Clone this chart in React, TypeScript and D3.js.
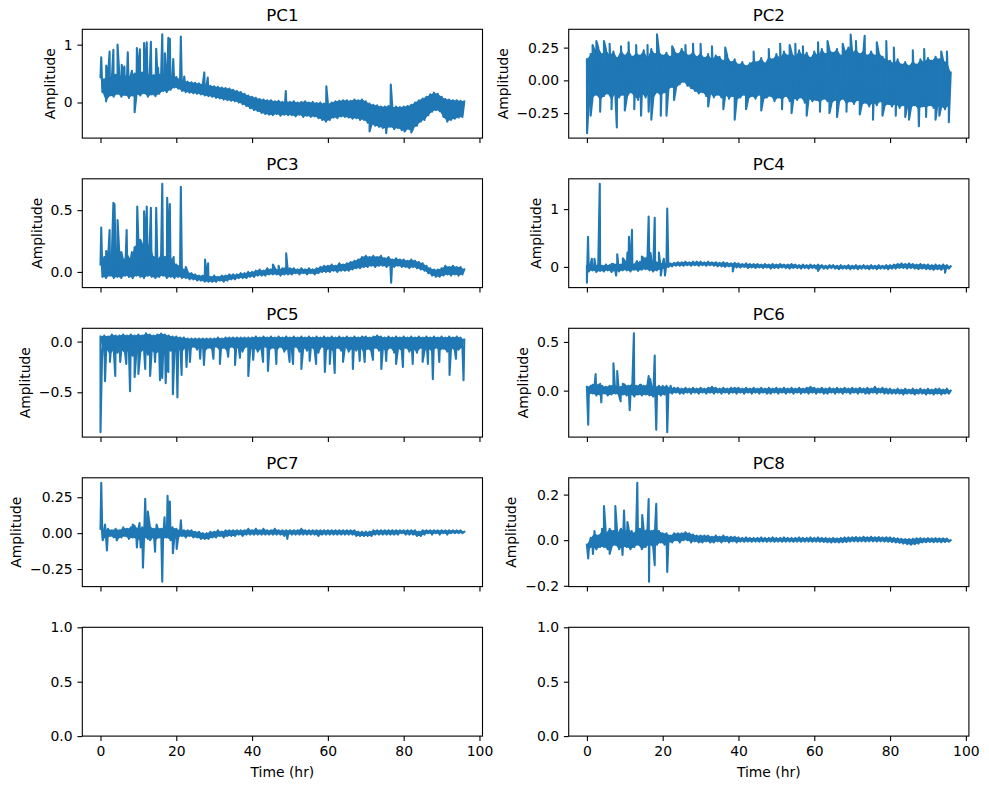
import React, { useEffect, useRef } from 'react';
import * as d3 from 'd3';

// recording length, hours (band samples are evenly spaced over it)
const endHr = 96;
const xTicks = [0, 20, 40, 60, 80, 100];
const xTickLabels = ['0', '20', '40', '60', '80', '100'];

// each band alternates upper edge / lower edge of the dense trace;
// spikes are isolated excursions as [hr, value]
const pc1Band = [
  0.44, 0.18, 0.40, 0.02, 0.46, 0.12, 0.42, 0.10, 0.48, 0.15,
  0.45, 0.10, 0.50, 0.13, 0.44, 0.08, 0.47, 0.12, 0.50, 0.14,
  0.48, 0.12, 0.52, 0.16, 0.46, 0.10, 0.50, 0.14, 0.47, 0.11,
  0.52, 0.15, 0.48, 0.20, 0.50, 0.18, 0.47, 0.22, 0.45, 0.26,
  0.44, 0.24, 0.40, 0.20, 0.38, 0.18, 0.36, 0.17, 0.35, 0.16,
  0.34, 0.15, 0.33, 0.14, 0.32, 0.12, 0.30, 0.11, 0.29, 0.10,
  0.28, 0.08, 0.27, 0.07, 0.26, 0.05, 0.25, 0.04, 0.24, 0.03,
  0.22, 0.02, 0.20, 0.00, 0.18, -0.03, 0.15, -0.06, 0.12, -0.10,
  0.10, -0.13, 0.08, -0.15, 0.06, -0.18, 0.05, -0.20, 0.04, -0.21,
  0.04, -0.22, 0.02, -0.20, 0.03, -0.23, 0.01, -0.21, 0.02, -0.22,
  0.01, -0.22, 0.02, -0.24, 0.00, -0.21, 0.01, -0.25, 0.02, -0.23,
  0.00, -0.25, 0.01, -0.24, -0.01, -0.27, 0.00, -0.30, -0.02, -0.33,
  -0.02, -0.30, 0.00, -0.26, 0.02, -0.27, 0.03, -0.24, 0.04, -0.25,
  0.04, -0.26, 0.03, -0.28, 0.05, -0.27, 0.04, -0.30, 0.05, -0.30,
  0.02, -0.35, -0.02, -0.38, -0.04, -0.40, -0.05, -0.42, -0.07, -0.44,
  -0.07, -0.45, -0.06, -0.42, -0.08, -0.46, -0.07, -0.44, -0.08, -0.48,
  -0.07, -0.48, -0.06, -0.46, -0.04, -0.45, 0.00, -0.40, 0.04, -0.33,
  0.07, -0.30, 0.10, -0.22, 0.14, -0.16, 0.17, -0.13, 0.15, -0.15,
  0.10, -0.25, 0.06, -0.33, 0.05, -0.30, 0.04, -0.28, 0.04, -0.26,
  0.03, -0.25, 0.02,
];
const pc1Spikes: [number, number][] = [
  [0.2, 0.78], [1.5, 0.64], [2.4, 0.88], [3.4, 0.91], [4.5, 1.0], [5.6, 0.65],
  [6.3, 0.62], [7.2, 0.87], [8.3, 0.55], [9.0, -0.17], [9.6, 0.94], [10.4, 0.92],
  [11.5, 1.03], [12.2, 1.04], [13.3, 1.05], [14.7, 0.93], [15.2, 0.6], [16.3, 1.18],
  [17.0, 0.85], [17.9, 1.12], [18.3, 1.1], [19.2, 0.75], [21.2, 1.14], [22.1, 0.45],
  [27.4, 0.52], [28.3, 0.43], [48.9, 0.2], [59.6, 0.28], [71.0, -0.5], [75.4, -0.53],
  [76.6, 0.31], [80.2, -0.5], [82.0, -0.52],
];
const pc1YTicks = [0, 1];
const pc1YLabels = ['0', '1'];

const pc2Band = [
  0.16, -0.16, 0.20, -0.13, 0.23, -0.11, 0.25, -0.15, 0.20, -0.12,
  0.24, -0.10, 0.19, -0.15, 0.22, -0.10, 0.17, -0.13, 0.23, -0.11,
  0.19, -0.14, 0.23, -0.09, 0.18, -0.12, 0.21, -0.15, 0.19, -0.10,
  0.23, -0.13, 0.17, -0.10, 0.24, -0.14, 0.20, -0.09, 0.22, -0.12,
  0.19, -0.09, 0.21, -0.07, 0.18, -0.05, 0.23, -0.06, 0.20, -0.03,
  0.24, -0.01, 0.21, -0.04, 0.19, -0.06, 0.22, -0.08, 0.18, -0.10,
  0.21, -0.09, 0.17, -0.12, 0.20, -0.10, 0.16, -0.13, 0.19, -0.11,
  0.18, -0.13, 0.15, -0.11, 0.19, -0.14, 0.14, -0.12, 0.16, -0.15,
  0.12, -0.13, 0.14, -0.11, 0.11, -0.15, 0.13, -0.12, 0.15, -0.14,
  0.14, -0.11, 0.17, -0.15, 0.13, -0.13, 0.18, -0.12, 0.16, -0.16,
  0.20, -0.13, 0.17, -0.15, 0.22, -0.12, 0.19, -0.16, 0.21, -0.14,
  0.18, -0.15, 0.23, -0.13, 0.19, -0.17, 0.21, -0.14, 0.17, -0.16,
  0.22, -0.15, 0.19, -0.17, 0.24, -0.14, 0.20, -0.16, 0.23, -0.18,
  0.21, -0.15, 0.24, -0.17, 0.19, -0.14, 0.22, -0.18, 0.25, -0.16,
  0.21, -0.18, 0.24, -0.15, 0.20, -0.19, 0.23, -0.17, 0.19, -0.20,
  0.22, -0.17, 0.19, -0.19, 0.21, -0.16, 0.18, -0.20, 0.16, -0.18,
  0.15, -0.20, 0.13, -0.18, 0.16, -0.21, 0.12, -0.19, 0.14, -0.20,
  0.11, -0.21, 0.15, -0.19, 0.12, -0.22, 0.16, -0.20, 0.14, -0.21,
  0.17, -0.19, 0.15, -0.21, 0.18, -0.18, 0.16, -0.20, 0.15, -0.22,
  0.14, -0.19, 0.06,
];
const pc2Spikes: [number, number][] = [
  [0.05, -0.403], [1.0, -0.27], [1.5, 0.27], [2.5, 0.30], [3.5, -0.24], [4.5, 0.30],
  [6.0, 0.28], [6.5, -0.22], [7.9, -0.36], [9.0, 0.26], [10.0, -0.23], [11.0, 0.29],
  [12.5, -0.22], [13.0, 0.27], [14.3, -0.27], [16.0, 0.27], [16.3, -0.24], [17.0, -0.30],
  [18.5, 0.352], [19.5, -0.27], [21.0, -0.27], [22.5, 0.26], [23.0, -0.15], [26.0, 0.27],
  [28.0, 0.28], [30.0, 0.28], [32.0, -0.20], [33.0, 0.26], [36.0, -0.22], [36.5, 0.25],
  [39.0, -0.30], [42.0, -0.22], [44.0, 0.22], [46.0, -0.23], [48.0, 0.24], [51.0, 0.28],
  [51.5, -0.22], [53.5, 0.27], [54.0, -0.25], [55.0, 0.28], [57.0, 0.26], [58.0, -0.27],
  [61.0, 0.29], [61.5, -0.24], [63.5, 0.30], [64.0, -0.25], [66.0, -0.28], [67.5, 0.28],
  [68.5, -0.24], [69.6, 0.35], [71.0, 0.30], [72.0, -0.26], [73.3, 0.34], [75.5, -0.30],
  [76.5, 0.29], [78.0, -0.27], [79.0, 0.30], [81.0, 0.25], [81.5, -0.27], [84.0, -0.28],
  [85.0, -0.30], [86.0, 0.23], [87.6, -0.35], [89.0, 0.24], [89.5, -0.28], [92.0, -0.30],
  [93.0, -0.27], [93.5, 0.22], [95.0, 0.22], [95.5, -0.32],
];
const pc2YTicks = [-0.25, 0, 0.25];
const pc2YLabels = ['\u22120.25', '0.00', '0.25'];

const pc3Band = [
  0.06, -0.04, 0.12, -0.05, 0.10, -0.03, 0.14, -0.05, 0.11, -0.04,
  0.13, -0.05, 0.09, -0.03, 0.15, -0.04, 0.10, -0.05, 0.20, -0.03,
  0.25, -0.04, 0.22, -0.05, 0.18, -0.03, 0.24, -0.04, 0.12, -0.05,
  0.10, -0.04, 0.14, -0.03, 0.12, -0.05, 0.16, -0.04, 0.09, -0.05,
  0.06, -0.04, 0.05, -0.05, 0.02, -0.05, 0.00, -0.06, -0.01, -0.06,
  -0.02, -0.07, -0.03, -0.07, -0.03, -0.08, -0.04, -0.08, -0.04, -0.08,
  -0.03, -0.08, -0.04, -0.07, -0.03, -0.08, -0.03, -0.07, -0.02, -0.06,
  -0.02, -0.06, -0.02, -0.05, -0.01, -0.05, -0.01, -0.05, 0.00, -0.04,
  0.00, -0.04, 0.01, -0.03, 0.02, -0.03, 0.01, -0.03, 0.03, -0.02,
  0.02, -0.02, 0.03, -0.02, 0.02, -0.03, 0.03, -0.02, 0.04, -0.02,
  0.03, -0.02, 0.03, -0.01, 0.02, -0.02, 0.03, -0.01, 0.02, -0.02,
  0.03, -0.01, 0.02, -0.02, 0.03, -0.01, 0.04, 0.00, 0.05, 0.00,
  0.05, 0.00, 0.06, 0.01, 0.05, 0.00, 0.07, 0.01, 0.06, 0.01,
  0.07, 0.01, 0.08, 0.02, 0.09, 0.03, 0.10, 0.03, 0.12, 0.04,
  0.13, 0.04, 0.12, 0.05, 0.13, 0.04, 0.12, 0.05, 0.13, 0.05,
  0.11, 0.04, 0.12, 0.05, 0.10, 0.04, 0.11, 0.05, 0.10, 0.04,
  0.10, 0.04, 0.09, 0.03, 0.10, 0.04, 0.09, 0.03, 0.08, 0.02,
  0.07, 0.01, 0.05, -0.01, 0.03, -0.03, 0.02, -0.04, 0.02, -0.04,
  0.03, -0.03, 0.05, -0.02, 0.04, -0.03, 0.05, -0.02, 0.04, -0.03,
  0.04, -0.02, 0.02,
];
const pc3Spikes: [number, number][] = [
  [0.2, 0.36], [1.5, 0.17], [2.4, 0.34], [3.4, 0.56], [3.7, 0.55], [4.5, 0.42],
  [5.5, 0.16], [6.9, 0.34], [8.3, 0.16], [9.7, 0.53], [10.5, 0.26], [11.5, 0.49],
  [12.2, 0.53], [13.3, 0.52], [14.7, 0.52], [16.3, 0.714], [17.6, 0.60], [18.3, 0.55],
  [19.3, 0.12], [21.2, 0.69], [22.5, 0.04], [27.6, 0.10], [28.4, 0.07], [45.5, 0.06],
  [47.0, 0.05], [49.0, 0.15], [76.7, -0.087],
];
const pc3YTicks = [0, 0.5];
const pc3YLabels = ['0.0', '0.5'];

const pc4Band = [
  0.02, -0.08, 0.05, -0.06, 0.03, -0.09, 0.04, -0.07, 0.02, -0.08,
  0.04, -0.06, 0.03, -0.09, 0.05, -0.07, 0.06, -0.08, 0.04, -0.06,
  0.10, -0.06, 0.08, -0.08, 0.05, -0.05, 0.07, -0.07, 0.09, -0.05,
  0.15, -0.04, 0.18, -0.06, 0.12, -0.08, 0.10, -0.06, 0.08, -0.05,
  0.06, -0.03, 0.07, 0.00, 0.06, 0.01, 0.07, 0.02, 0.08, 0.02,
  0.08, 0.02, 0.09, 0.03, 0.08, 0.02, 0.09, 0.03, 0.09, 0.02,
  0.09, 0.03, 0.08, 0.02, 0.09, 0.03, 0.08, 0.02, 0.08, 0.01,
  0.07, 0.01, 0.08, 0.00, 0.07, 0.01, 0.06, 0.00, 0.07, -0.01,
  0.06, -0.01, 0.05, 0.00, 0.06, -0.02, 0.05, -0.01, 0.05, -0.02,
  0.05, -0.01, 0.04, -0.02, 0.05, -0.01, 0.04, -0.03, 0.05, -0.02,
  0.04, -0.02, 0.05, -0.01, 0.04, -0.02, 0.04, -0.03, 0.05, -0.02,
  0.04, -0.02, 0.03, -0.03, 0.04, -0.02, 0.03, -0.03, 0.04, -0.02,
  0.03, -0.03, 0.04, -0.02, 0.03, -0.03, 0.02, -0.03, 0.03, -0.02,
  0.03, -0.03, 0.02, -0.04, 0.03, -0.03, 0.02, -0.03, 0.03, -0.04,
  0.02, -0.03, 0.03, -0.04, 0.02, -0.03, 0.03, -0.03, 0.02, -0.04,
  0.03, -0.03, 0.02, -0.04, 0.03, -0.03, 0.02, -0.03, 0.03, -0.04,
  0.03, -0.03, 0.04, -0.03, 0.05, -0.02, 0.06, -0.02, 0.05, -0.03,
  0.06, -0.02, 0.05, -0.03, 0.04, -0.04, 0.05, -0.03, 0.04, -0.04,
  0.04, -0.04, 0.03, -0.05, 0.04, -0.04, 0.03, -0.05, 0.04, -0.04,
  0.03, -0.03, 0.01,
];
const pc4Spikes: [number, number][] = [
  [0.0, -0.273], [0.3, 0.52], [1.3, 0.14], [2.0, 0.14], [3.4, 1.439], [6.5, 0.05],
  [7.7, -0.15], [8.0, 0.22], [9.5, 0.15], [10.7, 0.25], [11.1, 0.52], [11.9, 0.64],
  [13.2, 0.10], [14.5, 0.18], [16.3, 0.87], [16.8, 0.24], [17.9, 0.85], [19.0, 0.25],
  [19.5, -0.15], [20.3, 0.14], [20.6, -0.15], [21.2, 1.01], [38.5, -0.08], [61.0, -0.07],
  [94.5, -0.10],
];
const pc4YTicks = [0, 1];
const pc4YLabels = ['0', '1'];

const pc5Band = [
  0.05, -0.10, 0.06, -0.07, 0.05, -0.13, 0.07, -0.08, 0.06, -0.11,
  0.06, -0.08, 0.07, -0.12, 0.06, -0.09, 0.07, -0.14, 0.06, -0.09,
  0.07, -0.11, 0.06, -0.08, 0.082, -0.13, 0.07, -0.09, 0.06, -0.12,
  0.07, -0.10, 0.08, -0.14, 0.07, -0.10, 0.06, -0.09, 0.05, -0.11,
  0.05, -0.08, 0.04, -0.10, 0.04, -0.06, 0.03, -0.09, 0.03, -0.05,
  0.03, -0.08, 0.03, -0.05, 0.03, -0.10, 0.03, -0.06, 0.03, -0.08,
  0.03, -0.05, 0.04, -0.09, 0.03, -0.06, 0.04, -0.10, 0.04, -0.05,
  0.04, -0.08, 0.04, -0.06, 0.04, -0.10, 0.04, -0.05, 0.04, -0.08,
  0.04, -0.06, 0.05, -0.10, 0.04, -0.07, 0.05, -0.05, 0.04, -0.09,
  0.05, -0.06, 0.04, -0.09, 0.05, -0.05, 0.04, -0.10, 0.05, -0.07,
  0.04, -0.08, 0.05, -0.05, 0.04, -0.10, 0.05, -0.06, 0.04, -0.09,
  0.05, -0.06, 0.04, -0.08, 0.05, -0.11, 0.04, -0.05, 0.05, -0.09,
  0.04, -0.07, 0.05, -0.10, 0.04, -0.06, 0.05, -0.09, 0.04, -0.05,
  0.05, -0.10, 0.04, -0.07, 0.05, -0.09, 0.04, -0.06, 0.05, -0.11,
  0.05, -0.07, 0.04, -0.10, 0.05, -0.06, 0.06, -0.09, 0.05, -0.07,
  0.04, -0.10, 0.05, -0.06, 0.04, -0.11, 0.05, -0.07, 0.04, -0.09,
  0.05, -0.06, 0.04, -0.10, 0.05, -0.07, 0.04, -0.11, 0.05, -0.06,
  0.04, -0.09, 0.05, -0.07, 0.04, -0.10, 0.05, -0.06, 0.04, -0.09,
  0.05, -0.07, 0.04, -0.10, 0.05, -0.06, 0.04, -0.09, 0.05, -0.08,
  0.04, -0.06, 0.02,
];
const pc5Spikes: [number, number][] = [
  [0.0, -0.893], [0.4, -0.17], [1.2, -0.39], [2.5, -0.20], [3.9, -0.34], [5.2, -0.20],
  [6.8, -0.22], [7.8, -0.49], [9.0, -0.35], [10.0, -0.32], [11.8, -0.27], [13.1, -0.34],
  [14.4, -0.20], [15.7, -0.38], [16.3, -0.36], [17.2, -0.41], [17.9, -0.30], [19.1, -0.52],
  [20.3, -0.55], [21.4, -0.33], [22.7, -0.25], [23.6, -0.20], [26.3, -0.17], [27.3, -0.23],
  [29.8, -0.17], [31.5, -0.22], [33.7, -0.15], [35.5, -0.23], [36.8, -0.16], [39.0, -0.34],
  [40.3, -0.18], [42.9, -0.20], [44.2, -0.29], [46.4, -0.22], [49.9, -0.20], [50.8, -0.22],
  [53.0, -0.27], [55.2, -0.19], [56.9, -0.22], [59.2, -0.30], [60.5, -0.22], [61.8, -0.31],
  [64.0, -0.20], [66.6, -0.27], [68.4, -0.19], [69.7, -0.20], [71.9, -0.18], [74.1, -0.27],
  [75.4, -0.19], [78.0, -0.22], [79.8, -0.25], [82.4, -0.22], [85.0, -0.20], [86.4, -0.22],
  [87.7, -0.37], [89.4, -0.20], [92.1, -0.33], [93.8, -0.17], [95.8, -0.38],
];
const pc5YTicks = [-0.5, 0];
const pc5YLabels = ['\u22120.5', '0.0'];

const pc6Band = [
  0.04, -0.04, 0.05, -0.03, 0.04, -0.05, 0.06, -0.04, 0.05, -0.03,
  0.04, -0.05, 0.05, -0.04, 0.06, -0.03, 0.05, -0.05, 0.04, -0.04,
  0.06, -0.05, 0.05, -0.04, 0.07, -0.06, 0.05, -0.04, 0.06, -0.05,
  0.05, -0.04, 0.06, -0.05, 0.05, -0.06, 0.04, -0.04, 0.05, -0.05,
  0.04, -0.04, 0.05, -0.03, 0.03, -0.03, 0.03, -0.02, 0.03, -0.03,
  0.02, -0.03, 0.03, -0.02, 0.02, -0.03, 0.03, -0.02, 0.02, -0.03,
  0.03, -0.02, 0.02, -0.03, 0.03, -0.02, 0.04, -0.03, 0.03, -0.02,
  0.02, -0.03, 0.03, -0.02, 0.02, -0.03, 0.03, -0.02, 0.03, -0.03,
  0.03, -0.02, 0.02, -0.03, 0.03, -0.02, 0.02, -0.03, 0.03, -0.02,
  0.02, -0.03, 0.03, -0.02, 0.02, -0.03, 0.03, -0.03, 0.02, -0.02,
  0.03, -0.03, 0.02, -0.02, 0.03, -0.03, 0.02, -0.02, 0.03, -0.03,
  0.02, -0.02, 0.03, -0.03, 0.02, -0.02, 0.03, -0.03, 0.04, -0.02,
  0.03, -0.03, 0.02, -0.02, 0.03, -0.03, 0.02, -0.03, 0.03, -0.02,
  0.02, -0.03, 0.03, -0.02, 0.02, -0.03, 0.03, -0.02, 0.02, -0.03,
  0.03, -0.02, 0.02, -0.03, 0.03, -0.02, 0.02, -0.03, 0.03, -0.03,
  0.02, -0.02, 0.04, -0.03, 0.02, -0.02, 0.03, -0.03, 0.02, -0.03,
  0.02, -0.03, 0.01, -0.03, 0.02, -0.03, 0.01, -0.04, 0.02, -0.03,
  0.01, -0.03, 0.02, -0.04, 0.01, -0.03, 0.02, -0.03, 0.01, -0.04,
  0.02, -0.03, 0.01, -0.04, 0.02, -0.03, 0.02, -0.04, 0.01, -0.03,
  0.02, -0.03, 0.00,
];
const pc6Spikes: [number, number][] = [
  [0.35, -0.35], [1.5, 0.06], [2.3, 0.17], [3.5, 0.07], [3.8, -0.12], [7.0, 0.28],
  [8.0, 0.20], [8.9, -0.11], [9.5, 0.07], [11.3, -0.20], [12.4, 0.589], [14.3, 0.06],
  [16.3, 0.15], [16.7, 0.12], [17.9, 0.36], [18.3, -0.40], [20.0, 0.05], [21.2, -0.426],
  [22.1, 0.05],
];
const pc6YTicks = [0, 0.5];
const pc6YLabels = ['0.0', '0.5'];

const pc7Band = [
  0.03, -0.03, 0.02, -0.04, 0.03, -0.02, 0.02, -0.03, 0.03, -0.04,
  0.02, -0.03, 0.04, -0.02, 0.03, -0.04, 0.04, -0.03, 0.05, -0.04,
  0.03, -0.05, 0.04, -0.03, 0.03, -0.04, 0.05, -0.03, 0.03, -0.05,
  0.04, -0.03, 0.03, -0.04, 0.04, -0.03, 0.03, -0.05, 0.04, -0.03,
  0.03, -0.03, 0.02, -0.02, 0.02, -0.03, 0.02, -0.02, 0.02, -0.03,
  0.01, -0.03, 0.01, -0.04, 0.00, -0.04, 0.00, -0.04, 0.01, -0.03,
  0.01, -0.03, 0.02, -0.02, 0.01, -0.03, 0.02, -0.02, 0.02, -0.02,
  0.02, -0.02, 0.02, -0.01, 0.02, -0.02, 0.02, -0.01, 0.03, -0.01,
  0.02, -0.01, 0.03, -0.01, 0.02, -0.01, 0.03, -0.01, 0.02, -0.01,
  0.02, -0.01, 0.03, -0.01, 0.02, -0.01, 0.02, -0.02, 0.02, -0.01,
  0.02, -0.01, 0.02, -0.01, 0.02, -0.01, 0.03, -0.01, 0.02, -0.01,
  0.02, -0.01, 0.02, -0.01, 0.02, -0.02, 0.02, -0.01, 0.02, -0.01,
  0.02, -0.01, 0.02, -0.01, 0.02, -0.01, 0.02, -0.01, 0.02, -0.01,
  0.02, -0.01, 0.02, -0.01, 0.02, -0.02, 0.01, -0.02, 0.01, -0.02,
  0.01, -0.02, 0.01, -0.02, 0.02, -0.01, 0.02, -0.01, 0.02, -0.01,
  0.02, -0.01, 0.02, -0.01, 0.02, -0.01, 0.02, -0.01, 0.02, 0.00,
  0.02, -0.01, 0.02, -0.01, 0.02, -0.01, 0.02, -0.02, 0.01, -0.02,
  0.02, -0.01, 0.02, 0.00, 0.02, -0.01, 0.02, 0.00, 0.02, -0.01,
  0.02, 0.00, 0.02, -0.01, 0.02, 0.00, 0.02, 0.00, 0.02, 0.00,
  0.02, 0.00, 0.01,
];
const pc7Spikes: [number, number][] = [
  [0.2, 0.351], [0.6, -0.05], [1.2, 0.06], [1.7, -0.12], [4.3, -0.05], [8.5, 0.06],
  [9.6, -0.10], [10.3, 0.07], [10.6, -0.10], [11.2, -0.24], [11.8, 0.24], [12.5, 0.15],
  [13.1, -0.05], [14.4, -0.13], [14.8, 0.06], [16.3, -0.338], [16.9, 0.11], [17.7, 0.26],
  [18.3, 0.22], [19.1, -0.14], [20.1, -0.11], [21.2, 0.09], [49.3, -0.04],
];
const pc7YTicks = [-0.25, 0, 0.25];
const pc7YLabels = ['\u22120.25', '0.00', '0.25'];

const pc8Band = [
  -0.02, -0.04, 0.01, -0.03, 0.03, -0.04, 0.02, -0.03, 0.04, -0.03,
  0.03, -0.04, 0.05, -0.03, 0.04, -0.02, 0.03, -0.04, 0.05, -0.03,
  0.04, -0.03, 0.05, -0.04, 0.03, -0.03, 0.04, -0.02, 0.05, -0.04,
  0.04, -0.03, 0.05, -0.02, 0.04, -0.03, 0.05, -0.02, 0.04, -0.01,
  0.03, -0.02, 0.03, -0.01, 0.02, -0.01, 0.03, 0.00, 0.03, -0.01,
  0.03, 0.00, 0.035, 0.00, 0.03, -0.01, 0.025, -0.005, 0.02, -0.01,
  0.02, -0.01, 0.02, -0.005, 0.02, -0.01, 0.015, -0.01, 0.02, -0.005,
  0.015, -0.01, 0.02, -0.005, 0.015, -0.01, 0.015, -0.005, 0.015, -0.01,
  0.012, -0.006, 0.01, -0.007, 0.012, -0.006, 0.01, -0.007, 0.01, -0.006,
  0.01, -0.007, 0.012, -0.006, 0.01, -0.007, 0.01, -0.006, 0.012, -0.007,
  0.01, -0.006, 0.01, -0.007, 0.012, -0.006, 0.01, -0.006, 0.01, -0.007,
  0.01, -0.006, 0.012, -0.007, 0.01, -0.006, 0.01, -0.006, 0.012, -0.007,
  0.01, -0.006, 0.012, -0.007, 0.01, -0.008, 0.01, -0.009, 0.008, -0.01,
  0.01, -0.009, 0.008, -0.01, 0.01, -0.009, 0.012, -0.008, 0.012, -0.006,
  0.013, -0.005, 0.014, -0.006, 0.012, -0.005, 0.015, -0.006, 0.013, -0.005,
  0.015, -0.005, 0.013, -0.006, 0.014, -0.005, 0.012, -0.006, 0.013, -0.007,
  0.012, -0.008, 0.01, -0.01, 0.008, -0.012, 0.006, -0.015, 0.005, -0.017,
  0.005, -0.02, 0.006, -0.018, 0.008, -0.015, 0.009, -0.01, 0.008, -0.009,
  0.009, -0.008, 0.008, -0.009, 0.009, -0.008, 0.008, -0.009, 0.008, -0.008,
  0.007, -0.007, 0.0,
];
const pc8Spikes: [number, number][] = [
  [0.35, -0.08], [1.6, -0.06], [2.0, 0.04], [4.0, 0.05], [4.5, 0.15], [6.0, -0.06],
  [7.5, 0.15], [8.7, 0.04], [9.4, -0.065], [9.8, 0.13], [10.7, 0.08], [11.8, 0.04],
  [13.3, 0.252], [13.9, 0.04], [14.6, 0.11], [16.3, 0.18], [16.4, -0.182], [17.9, -0.11],
  [18.3, 0.16], [21.2, -0.14],
];
const pc8YTicks = [-0.2, 0, 0.2];
const pc8YLabels = ['\u22120.2', '0.0', '0.2'];

const emptyYTicks = [0, 0.5, 1];
const emptyYLabels = ['0.0', '0.5', '1.0'];

const panelTitles = ['PC1', 'PC2', 'PC3', 'PC4', 'PC5', 'PC6', 'PC7', 'PC8'];
const panelBands = [pc1Band, pc2Band, pc3Band, pc4Band, pc5Band, pc6Band, pc7Band, pc8Band];
const panelSpikes = [pc1Spikes, pc2Spikes, pc3Spikes, pc4Spikes, pc5Spikes, pc6Spikes, pc7Spikes, pc8Spikes];
const panelYTicks = [pc1YTicks, pc2YTicks, pc3YTicks, pc4YTicks, pc5YTicks, pc6YTicks, pc7YTicks, pc8YTicks];
const panelYLabels = [pc1YLabels, pc2YLabels, pc3YLabels, pc4YLabels, pc5YLabels, pc6YLabels, pc7YLabels, pc8YLabels];

export default function App() {
  const svgRef = useRef<SVGSVGElement>(null);

  useEffect(() => {
    if (!svgRef.current) return;
    const svg = d3.select(svgRef.current);
    svg.selectAll('*').remove();

    const font = 'DejaVu Sans, sans-serif';
    const tickFs = 13.9;
    const colLeft = [82.3, 568.7];
    const axW = 400.2;
    const axH = 108.8;
    const rowTop0 = 29.3;
    const rowStep = 149.5;
    const tick = 4.86;
    const blue = '#1f77b4';

    for (let k = 0; k < 10; k++) {
      const col = k % 2;
      const row = Math.floor(k / 2);
      const left = colLeft[col];
      const top = rowTop0 + row * rowStep;
      const bottom = top + axH;
      const isData = k < 8;
      const isBottom = row === 4;

      const x = d3.scaleLinear()
        .domain([-0.05 * endHr, 1.05 * endHr])
        .range([left, left + axW]);

      let bandPts: [number, number][] = [];
      let pts: [number, number][] = [];
      let y = d3.scaleLinear().domain([0, 1]).range([bottom, top]);
      if (isData) {
        const band = panelBands[k];
        const step = endHr / (band.length - 1);
        bandPts = band.map((v, i) => [i * step, v] as [number, number]);
        pts = bandPts.concat(panelSpikes[k]).sort((a, b) => a[0] - b[0]);
        const [lo, hi] = d3.extent(pts, d => d[1]) as [number, number];
        const pad = (hi - lo) * 0.05;
        y = d3.scaleLinear().domain([lo - pad, hi + pad]).range([bottom, top]);
      }

      const g = svg.append('g');

      if (isData) {
        const clipId = `clip-${k}`;
        svg.append('clipPath').attr('id', clipId)
          .append('rect')
          .attr('x', left).attr('y', top)
          .attr('width', axW).attr('height', axH);

        const line = d3.line<[number, number]>()
          .x(d => x(d[0]))
          .y(d => y(d[1]));

        // the trace is far denser than the screen: fill between its upper and lower edges
        const upper = bandPts.filter((_, i) => i % 2 === 0);
        const lower = bandPts.filter((_, i) => i % 2 === 1).reverse();
        g.append('path')
          .attr('clip-path', `url(#${clipId})`)
          .attr('fill', blue)
          .attr('stroke', 'none')
          .attr('d', line(upper.concat(lower)) + 'Z');

        g.append('path')
          .datum(pts)
          .attr('clip-path', `url(#${clipId})`)
          .attr('fill', 'none')
          .attr('stroke', blue)
          .attr('stroke-width', 2.08)
          .attr('stroke-linejoin', 'round')
          .attr('stroke-linecap', 'square')
          .attr('d', line);
      }

      // spines
      g.append('rect')
        .attr('x', left).attr('y', top)
        .attr('width', axW).attr('height', axH)
        .attr('fill', 'none')
        .attr('stroke', '#000')
        .attr('stroke-width', 1.1);

      // x axis
      const xAxis = d3.axisBottom(x)
        .tickValues(xTicks)
        .tickSize(tick)
        .tickSizeOuter(0)
        .tickPadding(tick)
        .tickFormat((_, i) => (isBottom ? xTickLabels[i] : ''));
      const gx = g.append('g')
        .attr('transform', `translate(0,${bottom})`)
        .call(xAxis);
      gx.select('.domain').remove();
      gx.attr('font-family', font).attr('font-size', tickFs);
      gx.selectAll('line').attr('stroke-width', 1.1);
      gx.selectAll('text').attr('fill', '#000');

      // y axis
      const yTicks = isData ? panelYTicks[k] : emptyYTicks;
      const yLabels = isData ? panelYLabels[k] : emptyYLabels;
      const yAxis = d3.axisLeft(y)
        .tickValues(yTicks)
        .tickSize(tick)
        .tickSizeOuter(0)
        .tickPadding(tick)
        .tickFormat((_, i) => yLabels[i]);
      const gy = g.append('g')
        .attr('transform', `translate(${left},0)`)
        .call(yAxis);
      gy.select('.domain').remove();
      gy.attr('font-family', font).attr('font-size', tickFs);
      gy.selectAll('line').attr('stroke-width', 1.1);
      gy.selectAll('text').attr('fill', '#000');

      if (isData) {
        let maxW = 0;
        gy.selectAll<SVGTextElement, unknown>('text').each(function () {
          maxW = Math.max(maxW, this.getBBox().width);
        });
        const labelX = left - 2 * tick - maxW - 5.56 - 3.3;
        g.append('text')
          .attr('transform', `translate(${labelX},${top + axH / 2}) rotate(-90)`)
          .attr('text-anchor', 'middle')
          .attr('font-family', font)
          .attr('font-size', tickFs)
          .attr('fill', '#000')
          .text('Amplitude');

        g.append('text')
          .attr('x', left + axW / 2)
          .attr('y', top - 8.33)
          .attr('text-anchor', 'middle')
          .attr('font-family', font)
          .attr('font-size', 16.67)
          .attr('fill', '#000')
          .text(panelTitles[k]);
      }

      if (isBottom) {
        g.append('text')
          .attr('x', left + axW / 2)
          .attr('y', bottom + 40.7)
          .attr('text-anchor', 'middle')
          .attr('font-family', font)
          .attr('font-size', tickFs)
          .attr('fill', '#000')
          .text('Time (hr)');
      }
    }
  }, []);

  return (
    <svg
      ref={svgRef}
      width={989}
      height={789}
      style={{ position: 'absolute', left: 0, top: 0, background: '#fff' }}
    />
  );
}
